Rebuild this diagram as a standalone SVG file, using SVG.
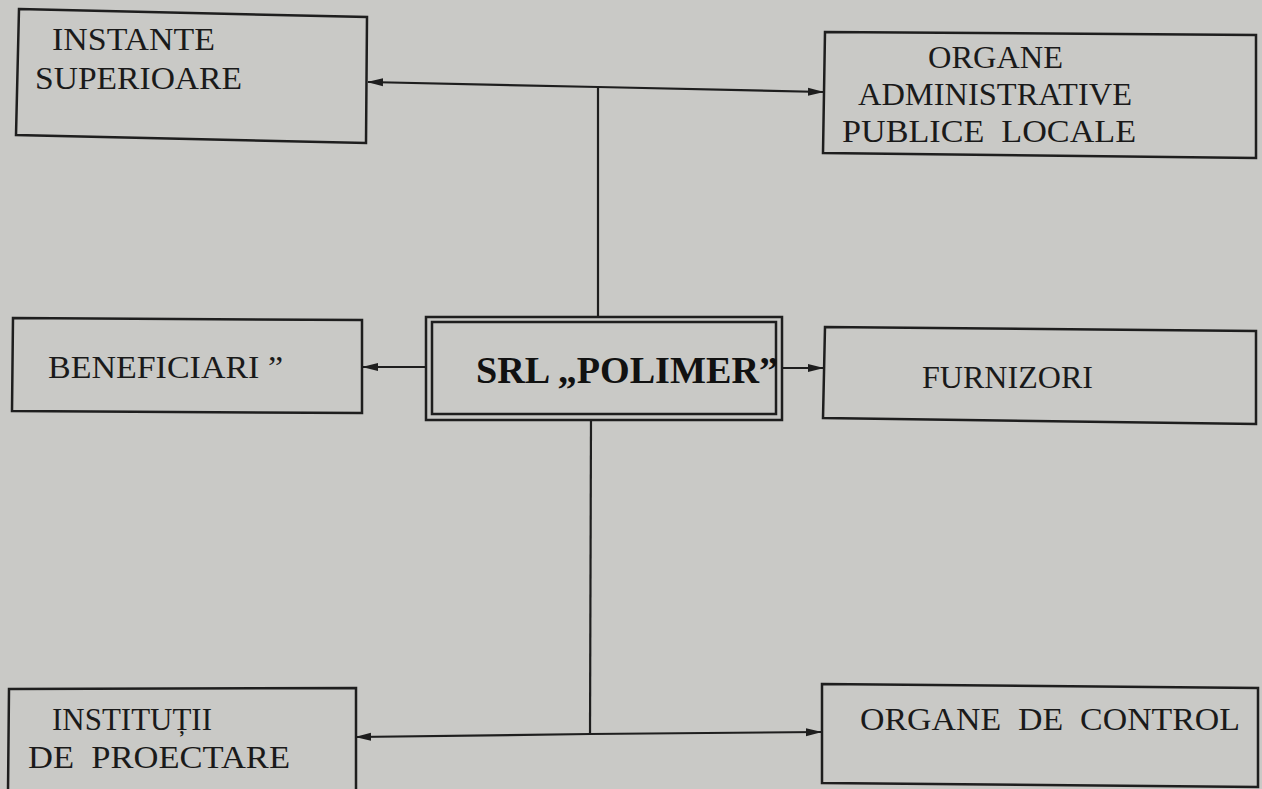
<svg xmlns="http://www.w3.org/2000/svg" width="1262" height="789" viewBox="0 0 1262 789">
<defs>
<style>
.box{fill:none;stroke:#1e1e1e;stroke-width:2.5}
.ln{fill:none;stroke:#1e1e1e;stroke-width:2.2}
.t{font-family:"Liberation Serif","Times New Roman",serif;font-size:32px;fill:#1a1a1a}
.b{font-family:"Liberation Serif","Times New Roman",serif;font-size:38px;font-weight:bold;fill:#111}
</style>
<marker id="ah" markerWidth="16" markerHeight="10" refX="15" refY="5" orient="auto" markerUnits="userSpaceOnUse">
<path d="M0,1 L16,5 L0,9 Z" fill="#1e1e1e"/>
</marker>
</defs>
<rect width="1262" height="789" fill="#c9c9c6"/>
<g id="connectors">
<line class="ln" x1="598" y1="87" x2="368" y2="82" marker-end="url(#ah)"/>
<line class="ln" x1="598" y1="87" x2="823" y2="92" marker-end="url(#ah)"/>
<line class="ln" x1="598" y1="87" x2="598" y2="318"/>
<line class="ln" x1="426" y1="367" x2="363" y2="367" marker-end="url(#ah)"/>
<line class="ln" x1="782" y1="368" x2="823" y2="368" marker-end="url(#ah)"/>
<line class="ln" x1="591" y1="420" x2="590" y2="734"/>
<line class="ln" x1="590" y1="734" x2="356" y2="737" marker-end="url(#ah)"/>
<line class="ln" x1="590" y1="734" x2="821" y2="732" marker-end="url(#ah)"/>
</g>
<g id="instante">
<polygon class="box" points="19,9 367,17 366,143 16,135"/>
<text class="t" x="52" y="50" textLength="163" lengthAdjust="spacingAndGlyphs">INSTANTE</text>
<text class="t" x="35" y="89" textLength="207" lengthAdjust="spacingAndGlyphs">SUPERIOARE</text>
</g>
<g id="organe-admin">
<polygon class="box" points="825,32 1256,35 1256,158 823,153"/>
<text class="t" x="928" y="68" textLength="135" lengthAdjust="spacingAndGlyphs">ORGANE</text>
<text class="t" x="858" y="105" textLength="274" lengthAdjust="spacingAndGlyphs">ADMINISTRATIVE</text>
<text class="t" x="842" y="142" textLength="294" lengthAdjust="spacingAndGlyphs" xml:space="preserve">PUBLICE  LOCALE</text>
</g>
<g id="beneficiari">
<polygon class="box" points="13,318 362,320 362,413 12,411"/>
<text class="t" x="48" y="378" textLength="235" lengthAdjust="spacingAndGlyphs">BENEFICIARI ”</text>
</g>
<g id="polimer">
<rect class="box" x="426" y="317" width="356" height="103" stroke-width="2"/>
<rect class="box" x="432" y="322" width="344" height="92" stroke-width="4"/>
<text class="b" x="476" y="383" textLength="302" lengthAdjust="spacingAndGlyphs">SRL „POLIMER”</text>
</g>
<g id="furnizori">
<polygon class="box" points="825,327 1256,331 1256,424 823,418"/>
<text class="t" x="922" y="388" textLength="171" lengthAdjust="spacingAndGlyphs">FURNIZORI</text>
</g>
<g id="institutii">
<polygon class="box" points="9,689 356,688 356,792 8,792"/>
<text class="t" x="52" y="730" textLength="160" lengthAdjust="spacingAndGlyphs">INSTITUȚII</text>
<text class="t" x="28" y="768" textLength="262" lengthAdjust="spacingAndGlyphs" xml:space="preserve">DE  PROECTARE</text>
</g>
<g id="organe-control">
<polygon class="box" points="822,684 1258,688 1258,787 822,783"/>
<text class="t" x="860" y="730" textLength="380" lengthAdjust="spacingAndGlyphs" xml:space="preserve">ORGANE  DE  CONTROL</text>
</g>
</svg>
